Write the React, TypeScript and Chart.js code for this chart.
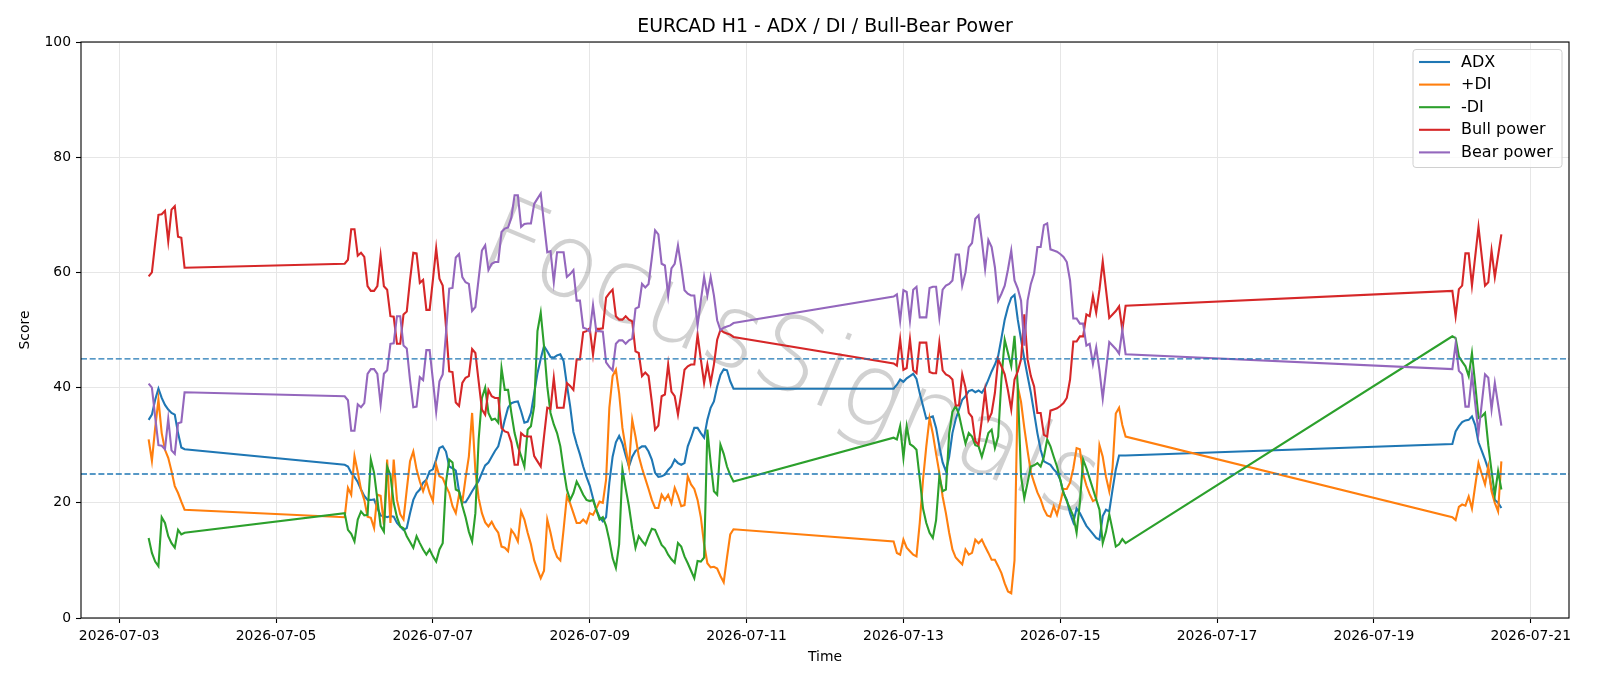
import { useEffect, useRef } from 'react';
import { Chart, registerables } from 'chart.js';

Chart.register(...registerables);

// ---- data -------------------------------------------------------------
const TITLE = 'EURCAD H1 - ADX / DI / Bull-Bear Power';
const WATERMARK = 'FocusSignals';
const X_LABEL = 'Time';
const Y_LABEL = 'Score';

// hourly bars, grouped in trading sessions (start time + number of bars)
const sessionStarts = ['2026-07-03T09:00:00Z', '2026-07-05T21:00:00Z', '2026-07-12T21:00:00Z', '2026-07-20T00:00:00Z'];
const sessionLengths = [12, 120, 72, 16];

const tickDates = [
  '2026-07-03', '2026-07-05', '2026-07-07', '2026-07-09', '2026-07-11',
  '2026-07-13', '2026-07-15', '2026-07-17', '2026-07-19', '2026-07-21',
];
const yTicks = [0, 20, 40, 60, 80, 100];
const thresholdLevels = [45, 25];

const adx = [
  34.4, 35.3, 37.9, 39.8, 38.2, 37.0, 36.2, 35.6, 35.3, 32.1, 29.6, 29.3,
  26.6, 26.3, 25.2, 24.5, 23.6, 22.3, 21.2, 20.5, 20.5, 20.6, 19.1, 17.8, 17.7, 17.5, 17.7, 17.6, 16.5, 15.9, 15.3, 15.6,
  18.2, 20.5, 21.7, 22.3, 23.5, 24.0, 25.5, 25.8, 27.5, 29.5, 29.8, 28.9, 26.3, 26.0, 25.6, 22.0, 20.1, 20.1, 21.0,
  22.0, 22.9, 23.8, 25.2, 26.5, 27.0, 28.0, 29.0, 29.8, 32.0, 34.4, 36.5, 37.3, 37.5, 37.6, 35.9, 33.9, 34.1, 35.6, 39.0,
  42.5, 45.0, 47.2, 46.3, 45.3, 45.2, 45.6, 45.8, 44.6, 40.5, 36.8, 32.3, 30.2, 28.4, 26.3, 24.5, 23.0, 20.8, 18.8, 17.5,
  16.8, 17.5, 23.5, 28.0, 30.5, 31.6, 30.3, 28.2, 26.3, 28.0, 29.0, 29.4, 29.8, 29.8, 28.9, 27.5, 25.2, 24.5, 24.6, 24.9,
  25.7, 26.3, 27.5, 26.9, 26.6, 26.9, 29.8, 31.3, 33.0, 33.0, 32.1, 31.3, 34.4, 36.5, 37.6, 40.2, 42.2, 43.2, 43.0, 41.1, 39.8,
  39.8, 40.5, 41.4, 41.0, 41.6, 42.0, 42.4, 41.5, 39.0, 36.8, 34.6, 34.8, 35.0, 33.0, 29.8, 27.0, 25.5, 28.0, 32.1, 34.5,
  36.2, 37.9, 38.5, 39.4, 39.6, 39.2, 39.5, 39.1, 40.0, 41.4, 42.8, 44.0, 45.5, 48.6, 51.8, 54.0,
  55.6, 56.1, 51.8, 48.4, 45.0, 42.0, 39.1, 35.6, 32.1, 29.2, 27.2, 26.9, 26.6, 25.8, 25.2, 24.0, 21.7, 20.5, 18.2, 16.6,
  19.0, 18.2, 17.1, 16.0, 15.3, 14.6, 13.9, 13.6, 17.7, 18.8, 18.5, 22.3, 25.8, 28.2, 28.2, 28.2,
  30.2, 32.4, 33.3, 34.0, 34.3, 34.4, 35.0, 33.5, 30.5, 29.0, 27.5, 25.8, 22.5, 20.5, 20.0, 19.1,
];

const plusDI = [
  31.0, 27.3, 33.0, 37.9, 32.1, 29.2, 27.8, 25.5, 22.9, 21.7, 20.2, 18.8,
  17.5, 22.6, 21.4, 28.1, 25.3, 22.3, 20.5, 17.6, 17.4, 15.6, 21.4, 21.2, 16.2, 27.5, 16.5, 27.5, 20.5, 18.0, 17.1, 22.3,
  27.2, 28.9, 25.8, 23.7, 22.0, 23.7, 21.7, 20.3, 26.6, 24.6, 24.3, 22.9, 21.7, 19.4, 18.2, 21.4, 20.1, 24.3, 28.0,
  35.6, 25.5, 20.8, 18.2, 16.6, 15.9, 16.7, 15.6, 14.8, 12.4, 12.2, 11.6, 15.3, 14.5, 13.3, 18.5, 17.1, 14.8, 12.8, 10.0,
  8.4, 6.9, 8.2, 17.1, 14.8, 12.1, 10.6, 10.0, 15.4, 21.1, 19.9, 18.2, 16.5, 16.5, 17.1, 16.5, 18.2, 17.9, 19.0, 20.2,
  20.0, 24.0, 36.5, 42.0, 43.1, 39.0, 33.0, 29.5, 26.3, 34.4, 31.5, 28.1, 26.0, 24.2, 22.4, 20.5, 19.1, 19.1, 21.4, 20.5,
  21.4, 19.9, 22.6, 21.2, 19.4, 19.6, 24.6, 23.2, 22.4, 20.5, 17.5, 12.8, 9.5, 8.8, 8.9, 8.6, 7.3, 6.2, 10.5, 14.5, 15.4,
  13.3, 11.3, 11.0, 13.6, 12.2, 11.6, 11.0, 10.7, 16.5, 24.0, 29.8, 34.7, 32.0, 28.5, 25.2, 21.1, 18.2, 14.8, 11.9, 10.5,
  9.9, 9.3, 11.9, 11.0, 11.3, 13.6, 13.0, 13.6, 12.4, 11.3, 10.1, 10.1, 9.0, 7.8, 6.0, 4.6,
  4.3, 10.0, 40.2, 37.5, 33.0, 29.0, 25.3, 23.5, 21.8, 20.6, 18.9, 17.8, 17.6, 19.4, 17.9, 20.0, 22.4, 22.4, 23.5, 26.0,
  29.5, 29.3, 25.0, 23.0, 21.5, 20.3, 20.6, 30.0, 28.0, 24.5, 22.0, 26.0, 35.5, 36.5, 33.5, 31.5,
  17.5, 17.0, 19.3, 19.7, 19.5, 21.1, 19.0, 23.0, 26.9, 25.0, 23.2, 26.3, 22.0, 20.0, 18.5, 27.2,
];

const minusDI = [
  13.9, 11.3, 9.8, 9.0, 17.5, 16.5, 14.2, 13.0, 12.2, 15.3, 14.5, 14.8,
  18.2, 15.3, 14.6, 13.3, 17.1, 18.5, 17.8, 17.9, 27.5, 25.2, 20.6, 16.0, 15.0, 26.3, 24.8, 20.0, 17.5, 15.9, 15.6, 14.2,
  13.2, 12.2, 14.2, 13.0, 11.9, 11.0, 11.9, 10.7, 9.8, 11.9, 13.0, 23.5, 27.5, 27.0, 22.3, 22.0, 19.5, 17.5, 15.0,
  13.3, 18.2, 31.0, 38.2, 40.0, 35.6, 34.4, 34.6, 33.9, 43.4, 39.6, 39.6, 35.6, 32.1, 29.8, 28.1, 26.3, 32.7, 33.3, 36.8,
  49.8, 53.0, 47.2, 40.2, 35.6, 33.6, 32.1, 29.8, 25.8, 22.3, 20.5, 21.7, 23.7, 22.6, 21.4, 20.5, 20.3, 20.5, 18.8, 17.1,
  17.5, 16.0, 13.5, 10.4, 8.7, 12.8, 25.8, 22.5, 19.4, 15.5, 12.2, 14.2, 13.4, 12.7, 14.2, 15.5, 15.3, 14.0, 12.7, 12.1,
  11.0, 10.2, 9.6, 13.0, 12.4, 10.7, 9.5, 8.2, 6.9, 9.9, 9.8, 10.5, 32.7, 27.0, 22.0, 21.4, 30.1, 28.5, 26.3, 24.8, 23.7,
  31.3, 31.0, 33.3, 27.8, 33.3, 30.2, 29.8, 29.2, 24.2, 19.0, 16.5, 14.8, 13.9, 17.0, 24.6, 22.0, 22.3, 32.0, 35.8, 36.8,
  35.3, 32.7, 30.3, 32.1, 31.5, 30.0, 29.8, 28.0, 30.0, 32.1, 32.7, 29.5, 31.5, 41.5, 48.3, 46.0,
  43.7, 49.0, 40.2, 24.6, 20.8, 23.5, 26.3, 26.5, 26.9, 26.3, 28.0, 31.0, 29.8, 28.0, 26.3, 24.0, 21.7, 20.3, 19.0, 17.7,
  14.8, 20.0, 27.5, 26.0, 24.2, 22.4, 20.6, 18.8, 13.0, 15.0, 18.0, 15.3, 12.4, 12.8, 13.7, 13.0,
  48.9, 48.6, 45.4, 44.5, 43.7, 42.0, 46.0, 40.5, 34.7, 35.0, 35.6, 30.0, 25.5, 21.4, 25.5, 22.3,
];

const bullPower = [
  59.3, 60.0, 65.1, 70.0, 70.1, 70.7, 65.4, 70.9, 71.5, 66.2, 66.0, 60.8,
  61.5, 62.2, 67.5, 67.5, 62.9, 63.4, 62.7, 57.6, 56.8, 56.8, 57.6, 62.9, 57.6, 57.0, 52.4, 52.3, 47.6, 47.6, 52.7, 53.2,
  58.7, 63.4, 63.3, 58.2, 58.7, 53.5, 53.5, 58.7, 64.2, 58.9, 57.7, 50.6, 42.8, 42.7, 37.4, 36.8, 40.8, 41.7, 42.0,
  46.7, 46.0, 41.1, 36.2, 35.3, 39.6, 38.5, 38.2, 38.2, 33.0, 32.4, 32.2, 30.5, 26.6, 26.6, 32.1, 31.6, 31.5, 31.5, 28.1,
  27.2, 26.3, 31.5, 36.5, 36.3, 41.7, 36.5, 36.5, 36.5, 40.8, 40.3, 39.6, 44.9, 44.9, 49.6, 49.8, 50.3, 45.7, 50.2, 50.2,
  50.3, 55.6, 56.4, 57.0, 52.4, 51.8, 51.8, 52.4, 51.8, 51.5, 46.3, 46.0, 42.0, 42.6, 42.0, 37.5, 32.7, 33.4, 38.5, 38.8,
  44.0, 39.3, 38.5, 35.3, 39.0, 43.1, 43.7, 44.0, 44.0, 49.2, 44.9, 40.8, 44.0, 40.8, 44.0, 48.3, 50.0, 49.6, 49.4, 49.2, 48.8,
  44.2, 43.8, 48.4, 43.1, 43.4, 48.4, 43.0, 42.5, 47.8, 47.8, 47.8, 42.7, 42.5, 42.5, 47.8, 43.0, 42.3, 42.0, 41.4, 36.9,
  36.9, 42.3, 40.0, 35.6, 34.9, 30.7, 30.1, 34.5, 39.4, 34.4, 35.6, 39.1, 44.9, 43.7, 42.3, 39.5,
  36.2, 41.4, 42.8, 44.9, 52.7, 44.9, 42.0, 40.2, 35.6, 35.6, 31.8, 31.5, 36.0, 36.2, 36.4, 36.8, 37.3, 38.2, 41.4, 48.0,
  48.0, 48.9, 48.9, 52.7, 52.4, 55.9, 53.0, 57.0, 61.9, 57.0, 52.1, 52.7, 53.3, 54.1, 50.0, 54.2,
  56.8, 52.4, 57.1, 57.7, 63.3, 63.3, 57.7, 62.8, 67.9, 62.8, 57.7, 58.3, 63.8, 59.2, 62.9, 66.6,
];

const bearPower = [
  40.7, 40.0, 34.9, 30.0, 29.9, 29.3, 34.6, 29.1, 28.5, 33.8, 34.0, 39.2,
  38.5, 37.8, 32.5, 32.5, 37.1, 36.6, 37.3, 42.4, 43.2, 43.2, 42.4, 37.1, 42.4, 43.0, 47.6, 47.7, 52.4, 52.4, 47.3, 46.8,
  41.3, 36.6, 36.7, 41.8, 41.3, 46.5, 46.5, 41.3, 35.8, 41.1, 42.3, 49.4, 57.2, 57.3, 62.6, 63.2, 59.2, 58.3, 58.0,
  53.3, 54.0, 58.9, 63.8, 64.7, 60.4, 61.5, 61.8, 61.8, 67.0, 67.6, 67.8, 69.5, 73.4, 73.4, 67.9, 68.4, 68.5, 68.5, 71.9,
  72.8, 73.7, 68.5, 63.5, 63.7, 58.3, 63.5, 63.5, 63.5, 59.2, 59.7, 60.4, 55.1, 55.1, 50.4, 50.2, 49.7, 54.3, 49.8, 49.8,
  49.7, 44.4, 43.6, 43.0, 47.6, 48.2, 48.2, 47.6, 48.2, 48.5, 53.7, 54.0, 58.0, 57.4, 58.0, 62.5, 67.3, 66.6, 61.5, 61.2,
  56.0, 60.7, 61.5, 64.7, 61.0, 56.9, 56.3, 56.0, 56.0, 50.8, 55.1, 59.2, 56.0, 59.2, 56.0, 51.7, 50.0, 50.4, 50.6, 50.8, 51.2,
  55.8, 56.2, 51.6, 56.9, 56.6, 51.6, 57.0, 57.5, 52.2, 52.2, 52.2, 57.3, 57.5, 57.5, 52.2, 57.0, 57.7, 58.0, 58.6, 63.1,
  63.1, 57.7, 60.0, 64.4, 65.1, 69.3, 69.9, 65.5, 60.6, 65.6, 64.4, 60.9, 55.1, 56.3, 57.7, 60.5,
  63.8, 58.6, 57.2, 55.1, 47.3, 55.1, 58.0, 59.8, 64.4, 64.4, 68.2, 68.5, 64.0, 63.8, 63.6, 63.2, 62.7, 61.8, 58.6, 52.0,
  52.0, 51.1, 51.1, 47.3, 47.6, 44.1, 47.0, 43.0, 38.1, 43.0, 47.9, 47.3, 46.7, 45.9, 50.0, 45.8,
  43.2, 47.6, 42.9, 42.3, 36.7, 36.7, 42.3, 37.2, 32.1, 37.2, 42.3, 41.7, 36.2, 40.8, 37.1, 33.4,
];

const seriesNames = ['ADX', '+DI', '-DI', 'Bull power', 'Bear power'];
const seriesValues = [adx, plusDI, minusDI, bullPower, bearPower];
const seriesColors = ['#1f77b4', '#ff7f0e', '#2ca02c', '#d62728', '#9467bd'];

// ---- helpers ----------------------------------------------------------
const HOUR = 3600000;
const ORIGIN = Date.parse('2026-07-03T00:00:00Z');
const toHours = (iso: string) => (Date.parse(iso) - ORIGIN) / HOUR;

const times: number[] = [];
sessionStarts.forEach((start, k) => {
  const h0 = toHours(start);
  for (let i = 0; i < sessionLengths[k]; i++) times.push(h0 + i);
});

const tMin = Math.min(...times);
const tMax = Math.max(...times);
const pad = (tMax - tMin) * 0.05;
const tickHours = tickDates.map((d) => toHours(d + 'T00:00:00Z'));
const fmtDate = (h: number) => new Date(ORIGIN + h * HOUR).toISOString().slice(0, 10);

const FONT = '"DejaVu Sans", "Liberation Sans", sans-serif';

const decorPlugin = {
  id: 'decor',
  beforeDatasetsDraw(chart: any) {
    const { ctx, chartArea: a } = chart;
    ctx.save();
    ctx.beginPath();
    ctx.rect(a.left, a.top, a.right - a.left, a.bottom - a.top);
    ctx.clip();
    ctx.translate(790, 364);
    ctx.rotate((23 * Math.PI) / 180);
    ctx.font = `200 100px ${FONT}`;
    const w = ctx.measureText(WATERMARK).width;
    const size = (100 * 660) / w;
    ctx.font = `200 ${size}px ${FONT}`;
    ctx.fillStyle = 'rgba(120,120,120,0.34)';
    ctx.textAlign = 'center';
    ctx.textBaseline = 'middle';
    ctx.fillText(WATERMARK, 0, 0);
    ctx.restore();
  },
  afterDatasetsDraw(chart: any) {
    const { ctx, chartArea: a, scales } = chart;
    ctx.save();
    ctx.strokeStyle = '#1f77b4';
    ctx.lineWidth = 1.3;
    ctx.setLineDash([6, 2.7]);
    thresholdLevels.forEach((lv) => {
      const y = scales.y.getPixelForValue(lv);
      ctx.beginPath();
      ctx.moveTo(a.left, y);
      ctx.lineTo(a.right, y);
      ctx.stroke();
    });
    ctx.setLineDash([]);
    ctx.strokeStyle = '#000';
    ctx.lineWidth = 1.1;
    ctx.strokeRect(a.left, a.top, a.right - a.left, a.bottom - a.top);
    ctx.restore();
  },
  afterDraw(chart: any) {
    const { ctx, chartArea: a } = chart;
    const cx = (a.left + a.right) / 2;
    const cy = (a.top + a.bottom) / 2;
    ctx.save();
    ctx.fillStyle = '#000';
    // title
    ctx.font = `18.9px ${FONT}`;
    ctx.textAlign = 'center';
    ctx.textBaseline = 'alphabetic';
    ctx.fillText(TITLE, cx, 32);
    // axis titles
    ctx.font = `13.9px ${FONT}`;
    ctx.textBaseline = 'middle';
    ctx.fillText(X_LABEL, cx, 657);
    ctx.save();
    ctx.translate(25.5, cy);
    ctx.rotate(-Math.PI / 2);
    ctx.fillText(Y_LABEL, 0, 0);
    ctx.restore();

    // legend
    const bx = 1413, by = 49.5, bw = 149, bh = 118, r = 3;
    ctx.beginPath();
    ctx.moveTo(bx + r, by);
    ctx.arcTo(bx + bw, by, bx + bw, by + bh, r);
    ctx.arcTo(bx + bw, by + bh, bx, by + bh, r);
    ctx.arcTo(bx, by + bh, bx, by, r);
    ctx.arcTo(bx, by, bx + bw, by, r);
    ctx.closePath();
    ctx.fillStyle = 'rgba(255,255,255,0.8)';
    ctx.fill();
    ctx.strokeStyle = '#d0d0d0';
    ctx.lineWidth = 1;
    ctx.stroke();
    ctx.textAlign = 'left';
    ctx.font = `16px ${FONT}`;
    seriesNames.forEach((name, i) => {
      const y = 62 + i * 22.6;
      ctx.strokeStyle = seriesColors[i];
      ctx.lineWidth = 2.1;
      ctx.beginPath();
      ctx.moveTo(1419, y);
      ctx.lineTo(1450, y);
      ctx.stroke();
      ctx.fillStyle = '#000';
      ctx.fillText(name, 1461, y + 0.5);
    });
    ctx.restore();
  },
};

export default function App() {
  const canvasRef = useRef<HTMLCanvasElement>(null);

  useEffect(() => {
    const canvas = canvasRef.current;
    if (!canvas) return;
    const gridColor = '#e6e6e6';
    const chart = new Chart(canvas, {
      type: 'line',
      data: {
        datasets: seriesNames.map((name, s) => ({
          label: name,
          data: times.map((t, i) => ({ x: t, y: seriesValues[s][i] })),
          borderColor: seriesColors[s],
          backgroundColor: seriesColors[s],
          borderWidth: 2.1,
          pointRadius: 0,
          tension: 0,
          fill: false,
          order: seriesNames.length - 1 - s,
        })),
      },
      options: {
        responsive: false,
        maintainAspectRatio: false,
        devicePixelRatio: 1,
        animation: false,
        events: [],
        layout: { padding: { top: 42, right: 31, left: 0, bottom: 0 } },
        plugins: {
          legend: { display: false },
          title: { display: false },
          tooltip: { enabled: false },
        },
        scales: {
          x: {
            type: 'linear',
            min: tMin - pad,
            max: tMax + pad,
            afterBuildTicks: (scale: any) => {
              scale.ticks = tickHours.map((v) => ({ value: v }));
            },
            afterFit: (scale: any) => {
              scale.height = 68;
            },
            border: { display: false },
            grid: { color: gridColor, lineWidth: 1, tickLength: 5, tickColor: '#000', tickWidth: 1.1 },
            ticks: {
              autoSkip: false,
              maxRotation: 0,
              padding: 5,
              color: '#000',
              font: { family: FONT, size: 13.9 },
              callback: (v: any) => fmtDate(Number(v)),
            },
          },
          y: {
            type: 'linear',
            min: 0,
            max: 100,
            afterBuildTicks: (scale: any) => {
              scale.ticks = yTicks.map((v) => ({ value: v }));
            },
            afterFit: (scale: any) => {
              scale.width = 81;
            },
            border: { display: false },
            grid: { color: gridColor, lineWidth: 1, tickLength: 5, tickColor: '#000', tickWidth: 1.1 },
            ticks: {
              padding: 5,
              color: '#000',
              font: { family: FONT, size: 13.9 },
              callback: (v: any) => String(v),
            },
          },
        },
      },
      plugins: [decorPlugin],
    } as any);
    return () => chart.destroy();
  }, []);

  return (
    <div style={{ position: 'fixed', left: 0, top: 0, width: 1600, height: 686, background: '#fff' }}>
      <canvas ref={canvasRef} width={1600} height={686} style={{ display: 'block', width: 1600, height: 686 }} />
    </div>
  );
}
